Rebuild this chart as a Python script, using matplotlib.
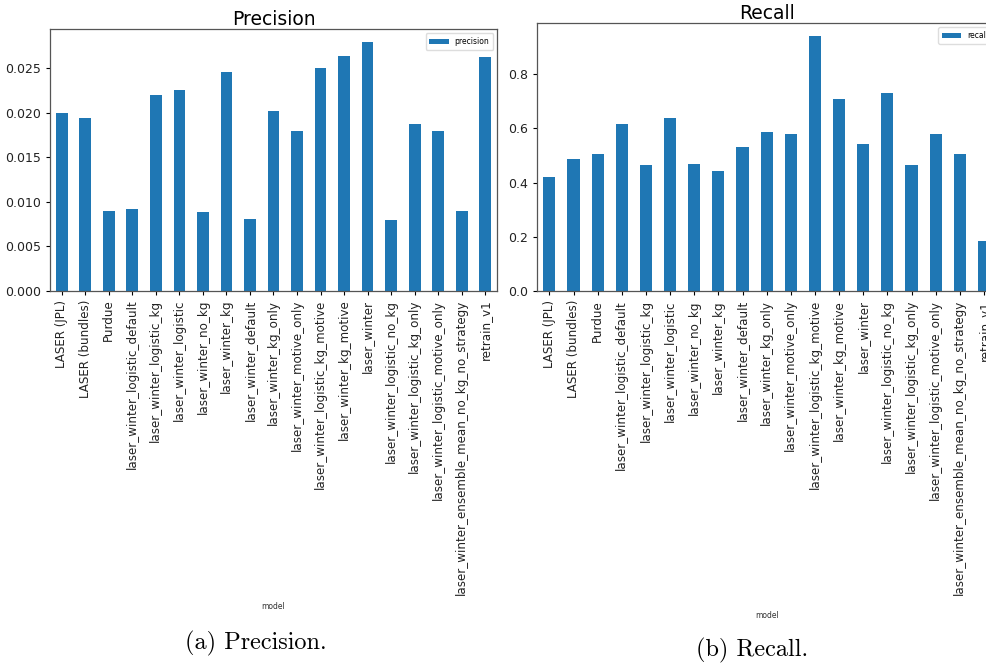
import numpy as np
import matplotlib
matplotlib.use('Agg')
import matplotlib.pyplot as plt

models = ['LASER (JPL)', 'LASER (bundles)', 'Purdue',
          'laser_winter_logistic_default', 'laser_winter_logistic_kg',
          'laser_winter_logistic', 'laser_winter_no_kg', 'laser_winter_kg',
          'laser_winter_default', 'laser_winter_kg_only',
          'laser_winter_motive_only', 'laser_winter_logistic_kg_motive',
          'laser_winter_kg_motive', 'laser_winter',
          'laser_winter_logistic_no_kg', 'laser_winter_logistic_kg_only',
          'laser_winter_logistic_motive_only',
          'laser_winter_ensemble_mean_no_kg_no_strategy', 'retrain_v1']

precision = [0.0200, 0.0194, 0.0090, 0.0092, 0.0220, 0.0226, 0.0089, 0.0246,
             0.0081, 0.0202, 0.0180, 0.0250, 0.0264, 0.0280, 0.0080, 0.0187,
             0.0180, 0.0090, 0.0263]

recall = [0.419, 0.489, 0.507, 0.617, 0.464, 0.638, 0.468, 0.444, 0.532,
          0.586, 0.580, 0.941, 0.708, 0.541, 0.729, 0.464, 0.580, 0.507,
          0.183]

W, H = 986, 664
fig = plt.figure(figsize=(W / 100, H / 100), dpi=100)
fig.patch.set_facecolor('white')


def px_axes(left, top, right, bottom):
    return fig.add_axes([left / W, 1 - bottom / H, (right - left) / W, (bottom - top) / H])


def bar_panel(ax, values, name, title, label_y):
    x = np.arange(len(models))
    ax.bar(x, values, width=0.5, color='#1f77b4', label=name)
    ax.set_xlim(-0.5, len(models) - 0.5)
    ax.set_ylim(0, max(values) * 1.05)
    ax.set_xticks(x)
    ax.set_xticklabels(models, rotation=90, fontsize=8.6, color='#222222')
    ax.tick_params(axis='y', labelsize=9, labelcolor='#222222', length=3)
    ax.tick_params(axis='x', length=3)
    ax.set_title(title, fontsize=13.5, pad=3)
    ax.set_xlabel('model', fontsize=5.5, color='#333333')
    ax.xaxis.set_label_coords(0.5, label_y)
    for s in ax.spines.values():
        s.set_color('#555555')
        s.set_linewidth(0.9)
    ax.legend(loc='upper right', fontsize=5.5, handlelength=2.5,
              borderpad=0.5, framealpha=1, edgecolor='#dddddd')


ax1 = px_axes(50, 29.3, 497, 290.7)
bar_panel(ax1, precision, 'precision', 'Precision', -1.19)
ax1.set_yticks(np.arange(0, 0.0251, 0.005))
ax1.set_yticklabels(['%.3f' % v for v in np.arange(0, 0.0251, 0.005)])

# right panel runs past the page edge, as in the document
ax2 = px_axes(537.3, 23.3, 996, 291)
bar_panel(ax2, recall, 'recall', 'Recall', -1.195)
ax2.set_yticks(np.arange(0, 0.81, 0.2))
ax2.set_yticklabels(['%.1f' % v for v in np.arange(0, 0.81, 0.2)])

fig.text(256 / W, 1 - 643 / H, '(a) Precision.', family='cmr10', fontsize=17.5,
         ha='center', va='center')
fig.text(752 / W, 1 - 650 / H, '(b) Recall.', family='cmr10', fontsize=17.5,
         ha='center', va='center')

fig.savefig('out.png', dpi=100)
